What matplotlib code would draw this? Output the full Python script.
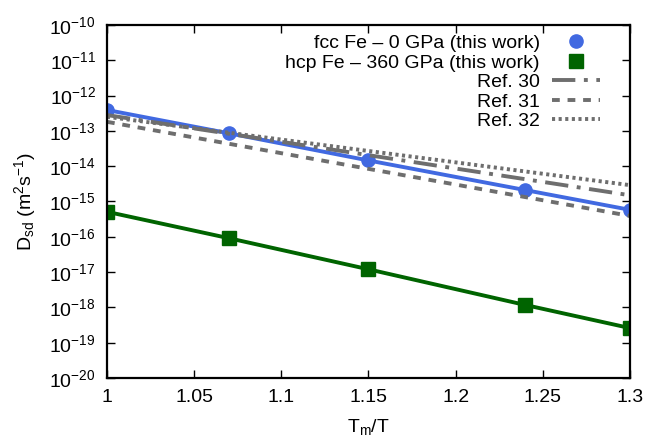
import numpy as np
import matplotlib
matplotlib.use("Agg")
from matplotlib import pyplot as plt

plt.rcParams['font.family'] = ['Liberation Sans', 'DejaVu Sans']
plt.rcParams['mathtext.default'] = 'regular'

# T_m/T values of the computed points
x_pts = [1.0, 1.07, 1.15, 1.24, 1.3]
fcc_D = [3.9e-13, 8.5e-14, 1.45e-14, 2.1e-15, 5.8e-16]
hcp_D = [5.1e-16, 9.1e-17, 1.2e-17, 1.17e-18, 2.6e-19]

# reference Arrhenius lines (end points)
ref_x = [1.0, 1.3]
ref30_D = [2.8e-13, 1.5e-15]
ref31_D = [1.8e-13, 3.9e-16]
ref32_D = [2.5e-13, 2.9e-15]

blue = '#4169e1'
green = '#006400'
grey = '#6e6e6e'
lw = 2.8

fig = plt.figure(figsize=(6.5, 4.37), dpi=100)
ax = fig.add_axes([0.1646, 0.135, 0.8044, 0.808])

ax.plot(x_pts, fcc_D, color=blue, lw=lw, marker='o', ms=9.5)
ax.plot(x_pts, hcp_D, color=green, lw=lw, marker='s', ms=9.5)
ax.plot(ref_x, ref30_D, color=grey, lw=lw, dashes=(6, 2.2, 1, 2.2))
ax.plot(ref_x, ref31_D, color=grey, lw=lw, dashes=(2, 2))
ax.plot(ref_x, ref32_D, color=grey, lw=lw, dashes=(0.8, 0.9))

# legend handles, gnuplot style (text then sample)
h1, = ax.plot([], [], ls='none', marker='o', ms=9.5, color=blue)
h2, = ax.plot([], [], ls='none', marker='s', ms=9.5, color=green)
h3, = ax.plot([], [], color=grey, lw=lw, dashes=(6, 2.2, 1, 2.2))
h4, = ax.plot([], [], color=grey, lw=lw, dashes=(2, 2))
h5, = ax.plot([], [], color=grey, lw=lw, dashes=(0.8, 0.9))
labels = ['fcc Fe – 0 GPa (this work)', 'hcp Fe – 360 GPa (this work)',
          'Ref. 30', 'Ref. 31', 'Ref. 32']
ax.legend([h1, h2, h3, h4, h5], labels, loc='upper right', frameon=False,
          markerfirst=False, fontsize=14, handlelength=2.5, labelspacing=0.1,
          handletextpad=0.6, borderaxespad=0.0, bbox_to_anchor=(0.958, 0.995))

ax.set_yscale('log')
ax.set_xlim(1.0, 1.3)
ax.set_ylim(1e-20, 1e-10)
ax.set_xticks([1.0, 1.05, 1.1, 1.15, 1.2, 1.25, 1.3])
ax.set_xticklabels(['1', '1.05', '1.1', '1.15', '1.2', '1.25', '1.3'])
ax.set_yticks([10.0 ** e for e in range(-20, -9)])
ax.set_yticklabels(['$10^{%d}$' % e for e in range(-20, -9)])
ax.yaxis.set_minor_locator(matplotlib.ticker.NullLocator())
ax.tick_params(direction='in', top=True, right=True, length=6, width=1,
               labelsize=14, pad=8)
for s in ax.spines.values():
    s.set_linewidth(1.6)

ax.set_xlabel('$T_m$/T', fontsize=14, labelpad=8)
ax.set_ylabel('$D_{sd}$ ($m^2s^{-1}$)', fontsize=14, labelpad=8)

fig.savefig('out.png', dpi=100)
